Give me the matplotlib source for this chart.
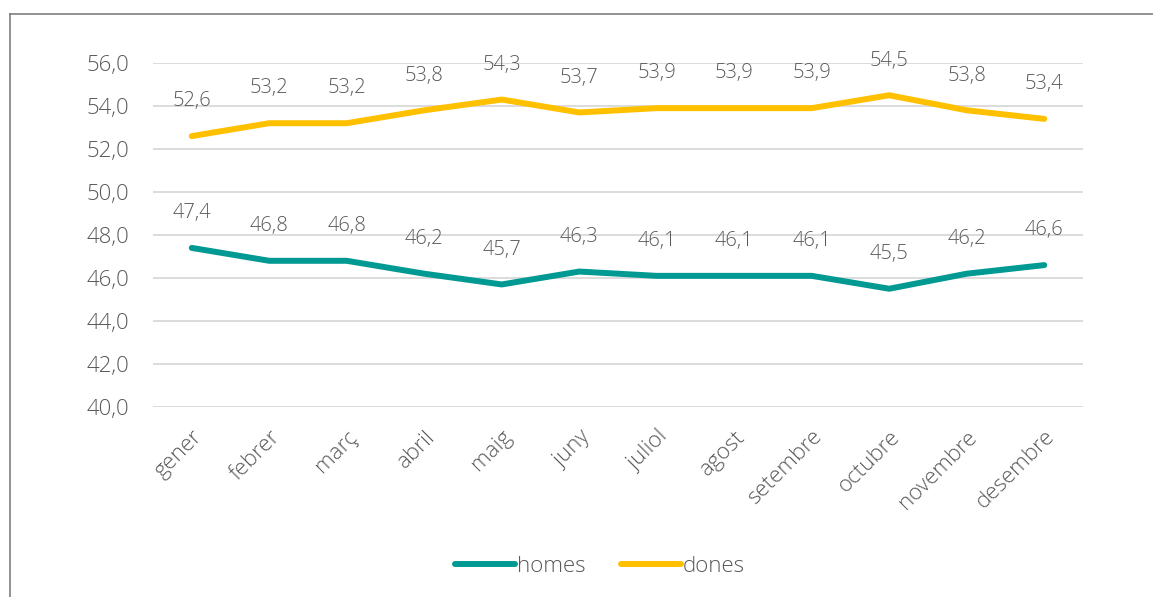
import matplotlib.pyplot as plt
import numpy as np

months = ['gener', 'febrer', 'març', 'abril', 'maig', 'juny', 'juliol',
          'agost', 'setembre', 'octubre', 'novembre', 'desembre']
homes = [47.4, 46.8, 46.8, 46.2, 45.7, 46.3, 46.1, 46.1, 46.1, 45.5, 46.2, 46.6]
dones = [52.6, 53.2, 53.2, 53.8, 54.3, 53.7, 53.9, 53.9, 53.9, 54.5, 53.8, 53.4]

plt.rcParams['font.family'] = ['Open Sans', 'DejaVu Sans']
plt.rcParams['font.weight'] = 'light'
txtColor = '#595959'

fig = plt.figure(figsize=(11.53, 5.97), dpi=100)
ax = fig.add_axes([153 / 1153, 1 - 407 / 597, 930 / 1153, 344 / 597])

x = np.arange(len(months))
ax.plot(x, homes, color='#009A93', lw=4.3, solid_capstyle='round', label='homes')
ax.plot(x, dones, color='#FFC000', lw=4.3, solid_capstyle='round', label='dones')

for i in range(len(months)):
    for v in (homes[i], dones[i]):
        ax.annotate(f'{v:.1f}'.replace('.', ','), (x[i], v), xytext=(0, 25),
                    textcoords='offset points', ha='center', va='center',
                    fontsize=14.5, color=txtColor)

ax.set_xlim(-0.5, 11.5)
ax.set_ylim(40, 56)
ax.set_yticks(np.arange(40, 57, 2))
ax.set_yticklabels([f'{v:.1f}'.replace('.', ',') for v in np.arange(40, 57, 2)])
ax.set_xticks(x)
ax.set_xticklabels(months, rotation=45, ha='right', rotation_mode='anchor')
ax.tick_params(axis='both', length=0, labelsize=16, labelcolor=txtColor)
ax.tick_params(axis='x', pad=14)
ax.tick_params(axis='y', pad=17)
ax.grid(axis='y', color='#D9D9D9', lw=1.3)
ax.set_axisbelow(True)
for s in ax.spines.values():
    s.set_visible(False)

leg = fig.legend(loc='center', bbox_to_anchor=(600 / 1153, 1 - 566 / 597), ncol=2,
                 frameon=False, fontsize=16, handlelength=2.7, handletextpad=0.1,
                 columnspacing=1.6, labelcolor=txtColor)

# border of the chart area
fig.add_artist(plt.Line2D([10 / 1153, 1], [1 - 14 / 597, 1 - 14 / 597],
                          color='#7F7F7F', lw=1.2, transform=fig.transFigure))
fig.add_artist(plt.Line2D([10 / 1153, 10 / 1153], [0, 1 - 14 / 597],
                          color='#7F7F7F', lw=1.2, transform=fig.transFigure))

plt.savefig('out.png', dpi=100)
